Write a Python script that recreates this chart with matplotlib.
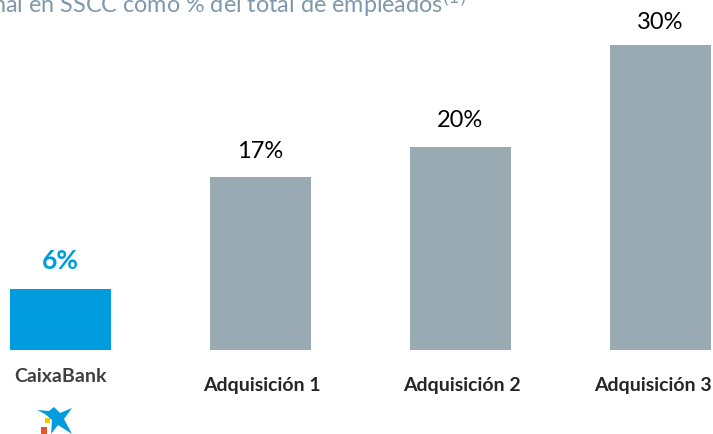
import matplotlib
matplotlib.use('Agg')
from matplotlib import pyplot as plt
from matplotlib.patches import Polygon

plt.rcParams['font.family'] = ['Lato', 'DejaVu Sans']

categories = ['CaixaBank', 'Adquisición 1', 'Adquisición 2', 'Adquisición 3']
valores = [6, 17, 20, 30]
etiquetas = ['6%', '17%', '20%', '30%']
colores = ['#009CDD', '#9AAAB3', '#9AAAB3', '#9AAAB3']
titulo = 'Personal en SSCC como % del total de empleados$^{(1)}$'

fig = plt.figure(figsize=(7.13, 4.34), dpi=100)
ax = fig.add_axes([0, 0, 1, 1])

# 200 px entre barras, 10.17 px por punto
ax.set_xlim(-60.5 / 200, (713 - 60.5) / 200)
ax.set_ylim(-84 / 10.17, 350 / 10.17)
ax.axis('off')

x = range(len(categories))
ax.bar(x, valores, width=0.505, color=colores)

# separacion de cada etiqueta respecto a su barra
sep = [2.75, 2.55, 2.55, 2.25]
for i, v in enumerate(valores):
    if i == 0:
        ax.text(i, v + sep[i], etiquetas[i], ha='center', va='center', fontsize=19,
                fontweight='bold', color='#009CDD')
    else:
        ax.text(i, v + sep[i], etiquetas[i], ha='center', va='center', fontsize=17, color='black')

# etiquetas de categoria, la primera va un poco mas arriba y la ultima un poco a la izquierda
desp = [0, 0.005, 0.005, -0.04]
ax.text(0, -2.65, categories[0], ha='center', va='center', fontsize=14, fontweight='bold', color='#404040')
for i in range(1, 4):
    ax.text(i + desp[i], -3.5, categories[i], ha='center', va='center', fontsize=14,
            fontweight='bold', color='#262626')

fig.text(-66 / 713, 1 - 4 / 434, titulo, ha='left', va='center', fontsize=16.8, color='#7F98AB')

# logo en pixeles
def px(x0, y0):
    return (x0 / 713, 1 - y0 / 434)

estrella = [(37, 410), (49, 411), (54, 407), (60, 413), (72, 408), (64, 419),
            (72, 434), (58, 425), (51, 434), (52, 420), (45, 414)]
fig.add_artist(Polygon([px(*p) for p in estrella], closed=True, transform=fig.transFigure,
                       facecolor='#009CDD', edgecolor='none'))
fig.add_artist(Polygon([px(45, 418), px(50, 418), px(50, 423), px(45, 423)], closed=True,
                       transform=fig.transFigure, facecolor='#F7C600', edgecolor='none'))
fig.add_artist(Polygon([px(41, 427), px(47, 427), px(47, 434), px(41, 434)], closed=True,
                       transform=fig.transFigure, facecolor='#E5562A', edgecolor='none'))

fig.savefig('out.png', dpi=100)
